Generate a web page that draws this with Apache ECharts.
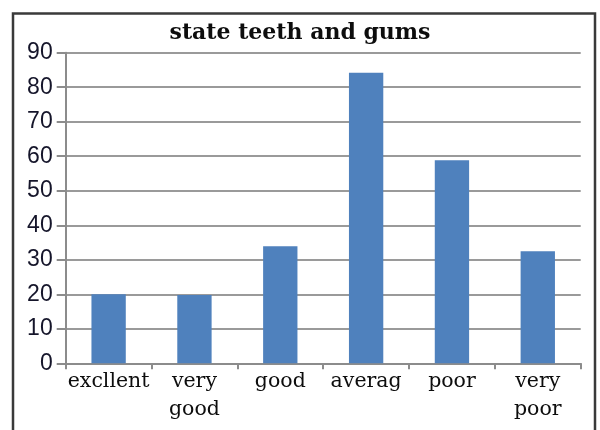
<!DOCTYPE html>
<html>
<head>
<meta charset="utf-8">
<script src="https://cdn.jsdelivr.net/npm/echarts@6/dist/echarts.min.js"></script>
<style>
  html, body { margin: 0; padding: 0; background: #fff; }
  #chart { width: 600px; height: 430px; }
</style>
</head>
<body>
<div id="chart"></div>
<script>
// Survey: self-rated state of teeth and gums
const chartTitle = 'state teeth and gums';
const categories = ['excllent', 'very\ngood', 'good', 'averag', 'poor', 'very\npoor'];
const counts = [20, 19.8, 33.9, 84.2, 58.8, 32.5];
const yTicks = { min: 0, max: 90, interval: 10 };

const chart = echarts.init(document.getElementById('chart'), null, { renderer: 'canvas' });

chart.setOption({
  animation: false,
  backgroundColor: '#ffffff',
  title: {
    text: chartTitle,
    left: 'center',
    top: 17.5,
    textStyle: {
      fontFamily: 'DejaVu Serif',
      fontWeight: 'bold',
      fontSize: 22,
      color: '#0d0d0d'
    }
  },
  // chart frame
  graphic: [{
    type: 'rect',
    shape: { x: 13, y: 13.5, width: 582, height: 430 },
    style: { fill: 'none', stroke: '#3a3a3a', lineWidth: 2.5 },
    silent: true
  }],
  grid: { left: 65.7, right: 19.3, top: 52.7, bottom: 66.7 },
  xAxis: {
    type: 'category',
    data: categories,
    boundaryGap: true,
    axisLine: { lineStyle: { color: '#8c8c8c', width: 2 } },
    axisTick: { show: true, alignWithLabel: false, length: 6, lineStyle: { color: '#8c8c8c', width: 2 } },
    axisLabel: {
      interval: 0,
      margin: 4,
      fontFamily: 'DejaVu Serif',
      fontSize: 20.5,
      lineHeight: 28,
      color: '#0d0d0d'
    }
  },
  yAxis: {
    type: 'value',
    min: yTicks.min,
    max: yTicks.max,
    interval: yTicks.interval,
    axisLine: { show: true, lineStyle: { color: '#8c8c8c', width: 2 } },
    axisTick: { show: true, length: 9, lineStyle: { color: '#8c8c8c', width: 2 } },
    axisLabel: {
      margin: 13,
      fontFamily: 'Liberation Sans',
      fontSize: 23,
      color: '#15152a'
    },
    splitLine: { show: true, lineStyle: { color: '#9a9a9a', width: 2 } }
  },
  series: [{
    type: 'bar',
    data: counts,
    barWidth: '40%',
    itemStyle: { color: '#4f81bd' }
  }]
});
</script>
</body>
</html>
